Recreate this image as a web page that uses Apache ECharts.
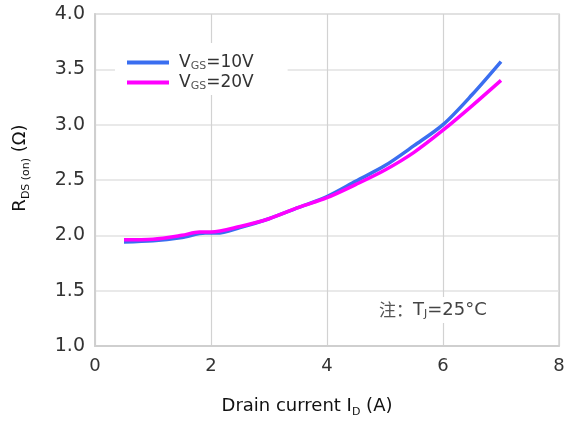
<!DOCTYPE html>
<html>
<head>
<meta charset="utf-8">
<script src="https://cdn.jsdelivr.net/npm/echarts@6/dist/echarts.min.js"></script>
<style>
  html, body { margin: 0; padding: 0; background: #fff; }
  #chart { width: 570px; height: 421px; }
</style>
</head>
<body>
<div id="chart"></div>
<script>
// Drain current I_D (A)
const currentVgs10 = [0.5, 1.0, 1.5, 1.9, 2.1, 2.5, 3.0, 3.5, 4.0, 4.5, 5.0, 5.5, 6.0, 6.5, 7.0];
// R_DS(on) (Ω) at V_GS = 10 V
const rdsVgs10 = [1.94, 1.95, 1.98, 2.02, 2.02, 2.07, 2.15, 2.25, 2.35, 2.49, 2.63, 2.81, 3.00, 3.27, 3.57];

const currentVgs20 = [0.5, 1.0, 1.5, 1.8, 2.0, 2.5, 3.0, 3.5, 4.0, 4.5, 5.0, 5.5, 6.0, 6.5, 7.0];
// R_DS(on) (Ω) at V_GS = 20 V
const rdsVgs20 = [1.96, 1.965, 2.00, 2.03, 2.03, 2.08, 2.15, 2.25, 2.34, 2.46, 2.59, 2.75, 2.95, 3.17, 3.40];

const seriesNames = ['VGS=10V', 'VGS=20V'];
const legendLabels = ['{v|V}{s|GS}{e|=10V}', '{v|V}{s|GS}{e|=20V}'];
const seriesColors = ['#3a6ef0', '#ff00ff'];

const xTicks = { min: 0, max: 8, interval: 2 };
const yTicks = { min: 1.0, max: 4.0, interval: 0.5 };

const FONT = 'DejaVu Sans';

const chart = echarts.init(document.getElementById('chart'), null, { renderer: 'canvas' });

function pairs(xs, ys) { return xs.map((x, i) => [x, ys[i]]); }

chart.setOption({
  animation: false,
  backgroundColor: '#ffffff',
  grid: {
    left: 95, right: 11, top: 14, bottom: 75,
    show: true, borderColor: '#d4d4d4', borderWidth: 1.5
  },
  xAxis: {
    type: 'value',
    min: xTicks.min, max: xTicks.max, interval: xTicks.interval,
    axisLine: { show: true, lineStyle: { color: '#cfcfcf', width: 2 } },
    axisTick: { show: false },
    axisLabel: { color: '#333', fontFamily: FONT, fontSize: 18, margin: 11 },
    splitLine: { show: true, lineStyle: { color: '#d2d2d2', width: 1.2 } }
  },
  yAxis: {
    type: 'value',
    min: yTicks.min, max: yTicks.max, interval: yTicks.interval,
    axisLine: { show: true, lineStyle: { color: '#cfcfcf', width: 2 } },
    axisTick: { show: false },
    axisLabel: {
      color: '#333', fontFamily: FONT, fontSize: 19, margin: 10,
      formatter: v => v.toFixed(1)
    },
    splitLine: { show: true, lineStyle: { color: '#e2e2e2', width: 1.5 } }
  },
  legend: {
    orient: 'vertical',
    left: 115, top: 43,
    padding: [10, 34, 3, 12],
    itemGap: 1,
    itemWidth: 42, itemHeight: 4,
    icon: 'rect',
    backgroundColor: '#ffffff',
    data: seriesNames,
    formatter: name => legendLabels[seriesNames.indexOf(name)],
    textStyle: {
      fontFamily: FONT, color: '#333',
      rich: {
        v: { fontFamily: FONT, fontSize: 17, color: '#333', lineHeight: 20, padding: [0, 0, 0, 5] },
        e: { fontFamily: FONT, fontSize: 17, color: '#333', lineHeight: 20 },
        s: { fontFamily: FONT, fontSize: 11, color: '#555', lineHeight: 20, padding: [8, 0, 0, 0] }
      }
    }
  },
  series: [
    {
      name: seriesNames[0], type: 'line', smooth: 0.3, symbol: 'none',
      data: pairs(currentVgs10, rdsVgs10),
      lineStyle: { color: seriesColors[0], width: 3.5 },
      itemStyle: { color: seriesColors[0] }, z: 3
    },
    {
      name: seriesNames[1], type: 'line', smooth: 0.3, symbol: 'none',
      data: pairs(currentVgs20, rdsVgs20),
      lineStyle: { color: seriesColors[1], width: 3.5 },
      itemStyle: { color: seriesColors[1] }, z: 4
    }
  ],
  graphic: [
    {
      // condition note
      type: 'text', left: 376, top: 297, z: 10,
      style: {
        text: '{c|注：}{t|T}{j|J}{t|=25°C}',
        backgroundColor: '#fff',
        padding: [2, 3, 2, 3],
        rich: {
          c: { fontFamily: 'Noto Sans CJK SC', fontSize: 17, fill: '#555', lineHeight: 22 },
          t: { fontFamily: FONT, fontSize: 18, fill: '#444', lineHeight: 22 },
          j: { fontFamily: FONT, fontSize: 11, fill: '#444', lineHeight: 22, padding: [8, 0, 0, 0] }
        }
      }
    },
    {
      // x axis title
      type: 'text', x: 307, y: 406, z: 10,
      style: {
        text: '{m|Drain current I}{s|D}{m| (A)}',
        align: 'center', verticalAlign: 'middle',
        rich: {
          m: { fontFamily: FONT, fontSize: 18, fill: '#111', lineHeight: 24 },
          s: { fontFamily: FONT, fontSize: 11, fill: '#111', lineHeight: 24, padding: [12, 0, 0, 0] }
        }
      }
    },
    {
      // y axis title
      type: 'text', x: 20, y: 168, rotation: Math.PI / 2, z: 10,
      style: {
        text: '{m|R}{s|DS (on)}{m| (Ω)}',
        align: 'center', verticalAlign: 'middle',
        rich: {
          m: { fontFamily: FONT, fontSize: 18, fill: '#111', lineHeight: 24 },
          s: { fontFamily: FONT, fontSize: 11, fill: '#111', lineHeight: 24, padding: [12, 0, 0, 0] }
        }
      }
    }
  ]
});
</script>
</body>
</html>
